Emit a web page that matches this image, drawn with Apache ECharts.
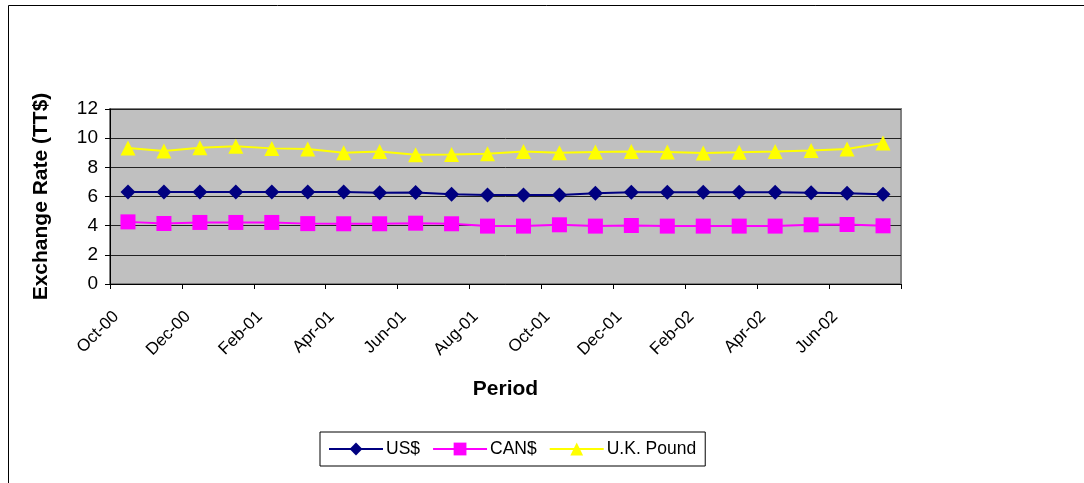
<!DOCTYPE html>
<html>
<head>
<meta charset="utf-8">
<title>Exchange Rate (TT$)</title>
<script src="https://cdn.jsdelivr.net/npm/echarts@6/dist/echarts.min.js"></script>
<style>
  html, body { margin: 0; padding: 0; background: #fff; }
  #chart { width: 1084px; height: 483px; }
</style>
</head>
<body>
<div id="chart"></div>
<script>
// Monthly periods, October 2000 to July 2002
const months = ['Oct-00','Nov-00','Dec-00','Jan-01','Feb-01','Mar-01','Apr-01','May-01',
  'Jun-01','Jul-01','Aug-01','Sep-01','Oct-01','Nov-01','Dec-01','Jan-02','Feb-02',
  'Mar-02','Apr-02','May-02','Jun-02','Jul-02'];

// TT$ per unit of foreign currency
const usd = [6.31, 6.31, 6.31, 6.31, 6.31, 6.31, 6.31, 6.26, 6.28, 6.15, 6.10,
  6.10, 6.10, 6.22, 6.29, 6.29, 6.29, 6.29, 6.29, 6.26, 6.22, 6.15];
const cad = [4.26, 4.15, 4.22, 4.22, 4.22, 4.14, 4.13, 4.13, 4.17, 4.13, 3.97,
  3.97, 4.06, 3.97, 4.01, 3.97, 3.97, 3.97, 3.97, 4.06, 4.08, 3.99];
const gbp = [9.32, 9.12, 9.34, 9.45, 9.30, 9.26, 9.00, 9.09, 8.87, 8.88, 8.93,
  9.09, 9.00, 9.05, 9.09, 9.05, 8.98, 9.03, 9.09, 9.16, 9.25, 9.67];

const yTicks = { min: 0, max: 12, step: 2 };

const FONT = '"Liberation Sans", Arial, sans-serif';
const PLOT = { left: 110, top: 109, width: 791, height: 175 };
const chart = echarts.init(document.getElementById('chart'), null, { renderer: 'canvas' });

function lineSeries(name, data, color, symbol) {
  return {
    name: name,
    type: 'line',
    data: data,
    xAxisIndex: 0,
    yAxisIndex: 0,
    symbol: symbol,
    symbolSize: 15,
    showAllSymbol: true,
    lineStyle: { color: color, width: 2 },
    itemStyle: { color: color, borderWidth: 0 },
    emphasis: { disabled: true }
  };
}

chart.setOption({
  animation: false,
  backgroundColor: '#ffffff',
  textStyle: { fontFamily: FONT, color: '#000' },
  graphic: [{
    type: 'rect',
    shape: { x: 8.5, y: 5.5, width: 1200, height: 600 },
    style: { fill: 'none', stroke: '#000', lineWidth: 1 },
    silent: true,
    z: -10
  }],
  grid: [{
    left: PLOT.left, top: PLOT.top, width: PLOT.width, height: PLOT.height,
    show: true,
    backgroundColor: '#C0C0C0',
    borderColor: '#808080',
    borderWidth: 2
  }, {
    // carries only the rotated period labels, nudged right of the tick marks
    left: PLOT.left + 6, top: PLOT.top, width: PLOT.width, height: PLOT.height,
    show: false
  }],
  legend: {
    left: 320, top: 432,
    orient: 'horizontal',
    backgroundColor: '#fff',
    borderColor: '#000',
    borderWidth: 1,
    padding: [8, 9, 8, 8],
    itemWidth: 54,
    itemHeight: 16,
    itemGap: 12,
    textStyle: { fontFamily: FONT, fontSize: 17.5, color: '#000', padding: [0, 0, 0, -2] },
    data: ['US$', 'CAN$', 'U.K. Pound']
  },
  xAxis: [{
    gridIndex: 0,
    type: 'category',
    data: months,
    boundaryGap: true,
    axisLine: { show: true, lineStyle: { color: '#000', width: 1 } },
    axisTick: { show: false },
    axisLabel: { show: false },
    splitLine: { show: false }
  }, {
    // tick marks on the boundaries between months
    gridIndex: 0,
    type: 'value',
    position: 'bottom',
    offset: 0,
    min: 0,
    max: months.length,
    interval: 2,
    axisLine: { show: false },
    axisTick: { show: true, length: 5, lineStyle: { color: '#000', width: 1 } },
    axisLabel: { show: false },
    splitLine: { show: false },
    name: 'Period',
    nameLocation: 'middle',
    nameGap: 95,
    nameTextStyle: { fontFamily: FONT, fontSize: 21, fontWeight: 'bold', color: '#000' }
  }, {
    gridIndex: 1,
    type: 'value',
    position: 'bottom',
    min: 0,
    max: months.length,
    interval: 2,
    axisLine: { show: false },
    axisTick: { show: false },
    splitLine: { show: false },
    axisLabel: {
      rotate: 45,
      margin: 30,
      fontFamily: FONT,
      fontSize: 17,
      color: '#000',
      formatter: function (v) { return months[v] || ''; }
    }
  }],
  yAxis: [{
    gridIndex: 0,
    type: 'value',
    min: yTicks.min,
    max: yTicks.max,
    interval: yTicks.step,
    axisLine: { show: true, lineStyle: { color: '#000', width: 1 } },
    axisTick: { show: true, length: 5, lineStyle: { color: '#000', width: 1 } },
    axisLabel: { fontFamily: FONT, fontSize: 19, color: '#000', margin: 12 },
    splitLine: { show: true, lineStyle: { color: '#222', width: 1 } },
    name: 'Exchange Rate (TT$)',
    nameLocation: 'middle',
    nameGap: 58,
    nameTextStyle: { fontFamily: FONT, fontSize: 21, fontWeight: 'bold', color: '#000' }
  }, {
    gridIndex: 1,
    type: 'value',
    min: yTicks.min,
    max: yTicks.max,
    show: false
  }],
  series: [
    lineSeries('US$', usd, '#000080', 'diamond'),
    lineSeries('CAN$', cad, '#FF00FF', 'rect'),
    lineSeries('U.K. Pound', gbp, '#FFFF00', 'triangle')
  ]
});
</script>
</body>
</html>
